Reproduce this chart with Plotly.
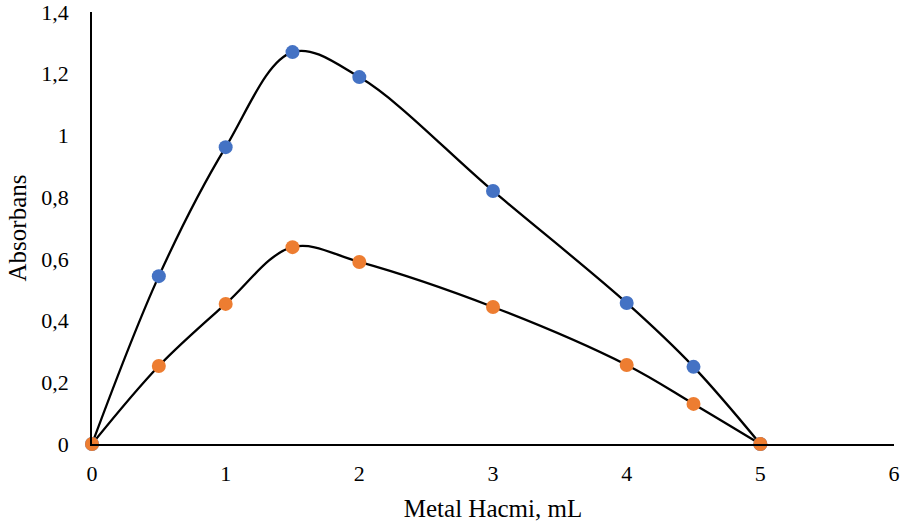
import plotly.graph_objects as go

volume = [0, 0.5, 1, 1.5, 2, 3, 4, 4.5, 5]
abs_upper = [0, 0.544, 0.962, 1.270, 1.189, 0.820, 0.457, 0.250, 0]
abs_lower = [0, 0.253, 0.454, 0.638, 0.590, 0.444, 0.256, 0.130, 0]

y_ticks = [0, 0.2, 0.4, 0.6, 0.8, 1.0, 1.2, 1.4]
y_tick_text = ["0", "0,2", "0,4", "0,6", "0,8", "1", "1,2", "1,4"]
x_ticks = [0, 1, 2, 3, 4, 5, 6]

fig = go.Figure()

for ys in (abs_upper, abs_lower):
    fig.add_trace(go.Scatter(
        x=volume, y=ys, mode="lines",
        line=dict(color="black", width=2.3, shape="spline", smoothing=1.0),
        hoverinfo="skip", showlegend=False, cliponaxis=False,
    ))

for ys, col in ((abs_upper, "#4472C4"), (abs_lower, "#ED7D31")):
    fig.add_trace(go.Scatter(
        x=volume, y=ys, mode="markers",
        marker=dict(color=col, size=14),
        showlegend=False, cliponaxis=False,
    ))

fig.update_layout(
    width=900, height=528,
    margin=dict(l=92, r=6, t=12, b=84),
    paper_bgcolor="white", plot_bgcolor="white",
    font=dict(family="Liberation Serif, Times New Roman, serif", size=22, color="black"),
    xaxis=dict(
        range=[0, 6], tickvals=x_ticks, showgrid=False, zeroline=False,
        showline=True, linecolor="black", linewidth=1.5, ticks="",
        automargin=False, ticklabelstandoff=9, ticklabeloverflow="allow",
        title=dict(text="Metal Hacmi, mL", font=dict(size=25), standoff=14),
        tickfont=dict(size=22),
    ),
    yaxis=dict(
        range=[0, 1.4], tickvals=y_ticks, ticktext=y_tick_text, showgrid=False,
        zeroline=False, showline=True, linecolor="black", linewidth=1.5, ticks="",
        automargin=False, ticklabelstandoff=17, ticklabeloverflow="allow",
        title=dict(text="Absorbans", font=dict(size=25), standoff=8),
        tickfont=dict(size=22),
    ),
)

fig.write_html("out.html")
